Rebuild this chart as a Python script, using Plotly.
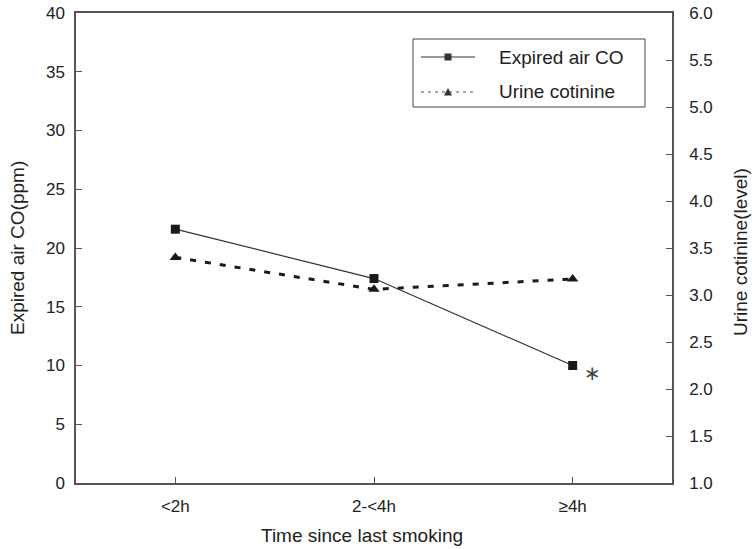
import plotly.graph_objects as go

categories = ["<2h", "2-<4h", "≥4h"]
co_values = [21.6, 17.4, 10.0]
cotinine_values = [3.40, 3.06, 3.17]
left_ticks = [0, 5, 10, 15, 20, 25, 30, 35, 40]
right_ticks = [1.0, 1.5, 2.0, 2.5, 3.0, 3.5, 4.0, 4.5, 5.0, 5.5, 6.0]
series_names = ["Expired air CO", "Urine cotinine"]

FONT = "Liberation Sans, Arial, sans-serif"
AX = "#555555"
W, H = 752, 549
ML, MR, MT, MB = 76, 80, 13, 66
PW, PH = W - ML - MR, H - MT - MB


def px(x):
    return (x - ML) / PW


def py(y):
    return (H - MB - y) / PH


fig = go.Figure()
fig.add_trace(go.Scatter(
    x=categories, y=co_values, name=series_names[0], mode="lines+markers",
    line=dict(color="#333333", width=1.2),
    marker=dict(symbol="square", size=9, color="#1a1a1a"),
    yaxis="y", showlegend=False,
))
fig.add_trace(go.Scatter(
    x=categories, y=cotinine_values, name=series_names[1], mode="lines+markers",
    line=dict(color="#1a1a1a", width=3, dash="6px,9px"),
    marker=dict(symbol="triangle-up", size=10, color="#1a1a1a"),
    yaxis="y2", showlegend=False,
))

# significance marker
fig.add_annotation(x=2.1, y=9.4, xref="x", yref="y", text="∗", showarrow=False,
                   xanchor="center", yanchor="middle",
                   font=dict(family="DejaVu Sans", size=20, color="#444444"))

# axis titles
title_font = dict(family=FONT, size=19, color="#222222")
fig.add_annotation(x=px(17), y=py(248), xref="paper", yref="paper", text="Expired air CO(ppm)",
                   textangle=-90, showarrow=False, xanchor="center", yanchor="middle", font=title_font)
fig.add_annotation(x=px(740), y=py(252), xref="paper", yref="paper", text="Urine cotinine(level)",
                   textangle=-90, showarrow=False, xanchor="center", yanchor="middle", font=title_font)
fig.add_annotation(x=px(362), y=py(535), xref="paper", yref="paper", text="Time since last smoking",
                   showarrow=False, xanchor="center", yanchor="middle", font=title_font)

# legend (drawn manually to match box geometry)
shapes = []
shapes.append(dict(type="rect", xref="paper", yref="paper",
                   x0=px(413), x1=px(645), y0=py(107), y1=py(39),
                   line=dict(color="#444444", width=1), fillcolor="white", layer="above"))
rows = [57, 92]
shapes.append(dict(type="line", xref="paper", yref="paper", x0=px(421), x1=px(475),
                   y0=py(rows[0]), y1=py(rows[0]), line=dict(color="#333333", width=1.2)))
shapes.append(dict(type="line", xref="paper", yref="paper", x0=px(421), x1=px(475),
                   y0=py(rows[1]), y1=py(rows[1]), line=dict(color="#555555", width=1, dash="3px,4px")))
shapes.append(dict(type="rect", xref="paper", yref="paper", x0=px(444.5), x1=px(451.5),
                   y0=py(rows[0] + 3.5), y1=py(rows[0] - 3.5), line=dict(width=0), fillcolor="#333333"))
tri = "M {} {} L {} {} L {} {} Z".format(px(444), py(rows[1] + 3.5), px(452), py(rows[1] + 3.5),
                                          px(448), py(rows[1] - 4))
shapes.append(dict(type="path", xref="paper", yref="paper", path=tri,
                   line=dict(width=0), fillcolor="#333333"))
legend_font = dict(family=FONT, size=19, color="#222222")
for name, yrow in zip(series_names, rows):
    fig.add_annotation(x=px(497), y=py(yrow), xref="paper", yref="paper", text=name,
                       xanchor="left", yanchor="middle", showarrow=False, font=legend_font)

fig.update_layout(
    template="none",
    width=W, height=H,
    margin=dict(l=ML, r=MR, t=MT, b=MB, pad=0),
    paper_bgcolor="white", plot_bgcolor="white",
    font=dict(family=FONT, size=17, color="#222222"),
    showlegend=False,
    hovermode=False,
    shapes=shapes,
    xaxis=dict(
        type="category", range=[-0.5, 2.5], automargin=False,
        showline=True, linecolor=AX, linewidth=1.5, mirror=True,
        ticks="inside", ticklen=6, tickcolor=AX, tickwidth=1,
        showgrid=False, zeroline=False, ticklabelstandoff=7,
    ),
    yaxis=dict(
        range=[0, 40], tickvals=left_ticks, automargin=False,
        showline=True, linecolor=AX, linewidth=1.5,
        ticks="inside", ticklen=6, tickcolor=AX, tickwidth=1,
        showgrid=False, zeroline=False, ticklabelstandoff=6,
    ),
    yaxis2=dict(
        range=[1, 6], tickvals=right_ticks, tickformat=".1f", automargin=False,
        overlaying="y", side="right",
        showline=True, linecolor=AX, linewidth=1.5,
        ticks="inside", ticklen=6, tickcolor=AX, tickwidth=1,
        showgrid=False, zeroline=False, ticklabelstandoff=12,
    ),
)

fig.write_html("out.html", config={"displayModeBar": False},
               post_script="document.body.style.margin='0px';")
